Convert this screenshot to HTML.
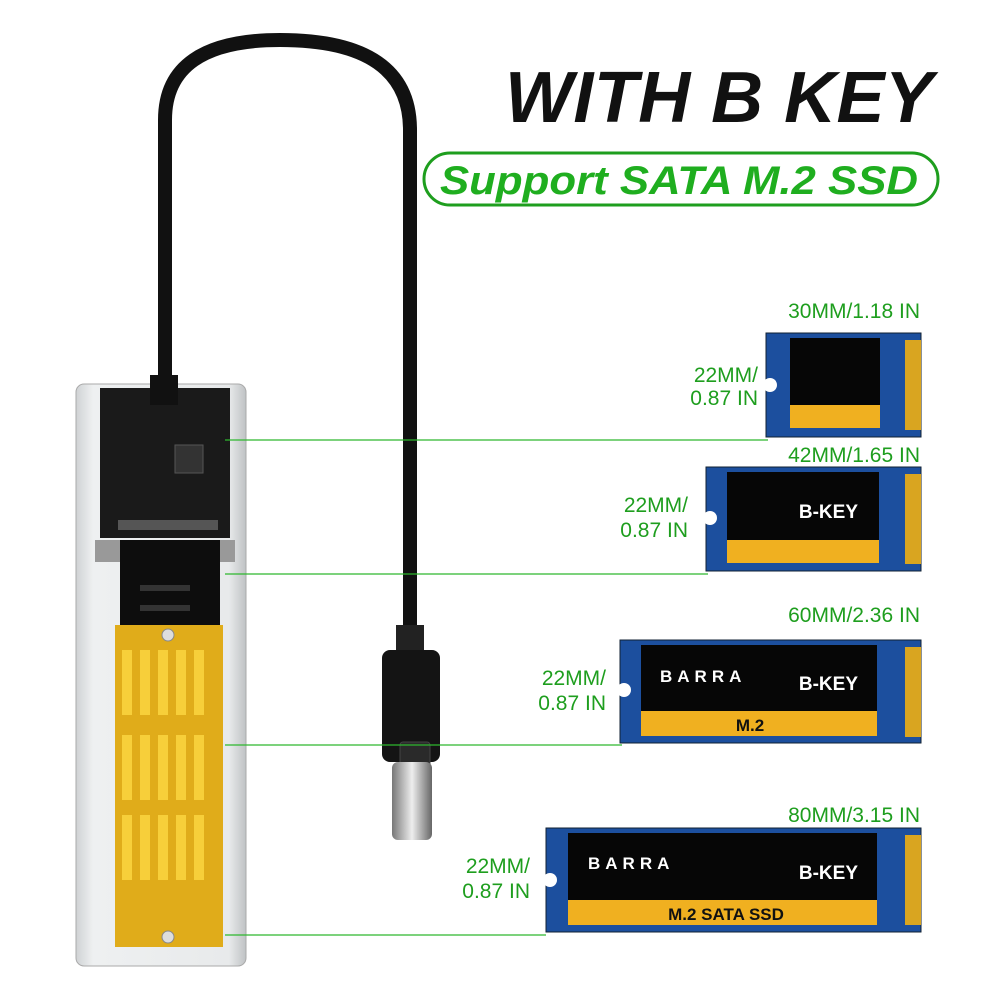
<!DOCTYPE html>
<html><head><meta charset="utf-8"><style>
body{margin:0;background:#fff;width:1000px;height:1000px;overflow:hidden;font-family:"Liberation Sans",sans-serif}
.g{fill:#1e9e1e;font-family:"Liberation Sans",sans-serif}
</style></head><body>
<svg width="1000" height="1000" viewBox="0 0 1000 1000" xmlns="http://www.w3.org/2000/svg">
<defs>
<linearGradient id="encl" x1="0" x2="1"><stop offset="0" stop-color="#cfd2d4"/><stop offset="0.1" stop-color="#eef0f1"/><stop offset="0.9" stop-color="#e8eaeb"/><stop offset="1" stop-color="#bfc2c4"/></linearGradient>
<linearGradient id="met" x1="0" x2="1"><stop offset="0" stop-color="#777"/><stop offset="0.5" stop-color="#eee"/><stop offset="1" stop-color="#666"/></linearGradient>
</defs>
<text x="505" y="122" font-size="72" font-weight="bold" font-style="italic" fill="#111" font-family="Liberation Sans,sans-serif" textLength="428">WITH B KEY</text>
<rect x="424" y="153" width="514" height="52" rx="26" fill="none" stroke="#1e9e1e" stroke-width="3"/>
<text x="440" y="194" font-size="40" font-weight="bold" font-style="italic" fill="#1fae1f" font-family="Liberation Sans,sans-serif" textLength="478" lengthAdjust="spacingAndGlyphs">Support SATA M.2 SSD</text>
<path d="M165 385 L165 120 Q165 40 280 40 Q410 40 410 130 L410 640" fill="none" stroke="#111" stroke-width="14"/>
<rect x="396" y="625" width="28" height="30" fill="#222"/>
<rect x="382" y="650" width="58" height="112" rx="8" fill="#141414"/>
<rect x="400" y="742" width="30" height="50" rx="3" fill="#2a2a2a" stroke="#444"/>
<rect x="392" y="762" width="40" height="78" rx="6" fill="url(#met)"/>
<rect x="76" y="384" width="170" height="582" rx="8" fill="url(#encl)" stroke="#aaa"/>
<rect x="100" y="388" width="130" height="150" fill="#1a1a1a"/>
<rect x="150" y="375" width="28" height="30" fill="#111"/>
<rect x="175" y="445" width="28" height="28" fill="#333" stroke="#555"/>
<rect x="118" y="520" width="100" height="10" fill="#555"/>
<rect x="95" y="540" width="140" height="22" fill="#999"/>
<rect x="120" y="540" width="100" height="85" fill="#0d0d0d"/>
<rect x="140" y="585" width="50" height="6" fill="#333"/>
<rect x="140" y="605" width="50" height="6" fill="#333"/>
<rect x="115" y="625" width="108" height="322" fill="#e0ac1a"/>
<g fill="#f7cf3a">
<rect x="122" y="650" width="10" height="65"/><rect x="140" y="650" width="10" height="65"/><rect x="158" y="650" width="10" height="65"/><rect x="176" y="650" width="10" height="65"/><rect x="194" y="650" width="10" height="65"/>
<rect x="122" y="735" width="10" height="65"/><rect x="140" y="735" width="10" height="65"/><rect x="158" y="735" width="10" height="65"/><rect x="176" y="735" width="10" height="65"/><rect x="194" y="735" width="10" height="65"/>
<rect x="122" y="815" width="10" height="65"/><rect x="140" y="815" width="10" height="65"/><rect x="158" y="815" width="10" height="65"/><rect x="176" y="815" width="10" height="65"/><rect x="194" y="815" width="10" height="65"/>
</g>
<circle cx="168" cy="635" r="6" fill="#ddd" stroke="#888"/>
<circle cx="168" cy="937" r="6" fill="#ddd" stroke="#888"/>
<g stroke="#2eb82e" stroke-width="1.2">
<line x1="225" y1="440" x2="768" y2="440"/>
<line x1="225" y1="574" x2="708" y2="574"/>
<line x1="225" y1="745" x2="622" y2="745"/>
<line x1="225" y1="935" x2="546" y2="935"/>
</g>
<rect x="766" y="333" width="155" height="104" fill="#1c4f9e" stroke="#123"/>
<rect x="905" y="340" width="16" height="90" fill="#d9a520"/>
<rect x="790" y="338" width="90" height="68" fill="#060606"/>
<rect x="790" y="405" width="90" height="23" fill="#f0b020"/>
<circle cx="770" cy="385" r="7" fill="#fff"/>
<text class="g" x="920" y="318" font-size="21" text-anchor="end">30MM/1.18 IN</text>
<text class="g" x="758" y="382" font-size="21" text-anchor="end">22MM/</text>
<text class="g" x="758" y="405" font-size="21" text-anchor="end">0.87 IN</text>
<rect x="706" y="467" width="215" height="104" fill="#1c4f9e" stroke="#123"/>
<rect x="905" y="474" width="16" height="90" fill="#d9a520"/>
<rect x="727" y="472" width="152" height="68" fill="#060606"/>
<rect x="727" y="540" width="152" height="23" fill="#f0b020"/>
<circle cx="710" cy="518" r="7" fill="#fff"/>
<text x="858" y="518" font-size="19" font-weight="bold" fill="#fff" text-anchor="end">B-KEY</text>
<text class="g" x="920" y="462" font-size="21" text-anchor="end">42MM/1.65 IN</text>
<text class="g" x="688" y="512" font-size="21" text-anchor="end">22MM/</text>
<text class="g" x="688" y="537" font-size="21" text-anchor="end">0.87 IN</text>
<rect x="620" y="640" width="301" height="103" fill="#1c4f9e" stroke="#123"/>
<rect x="905" y="647" width="16" height="90" fill="#d9a520"/>
<rect x="641" y="645" width="236" height="67" fill="#060606"/>
<rect x="641" y="711" width="236" height="25" fill="#f0b020"/>
<circle cx="624" cy="690" r="7" fill="#fff"/>
<text x="660" y="682" font-size="17" font-weight="bold" fill="#fff" letter-spacing="5">BARRA</text>
<text x="858" y="690" font-size="19" font-weight="bold" fill="#fff" text-anchor="end">B-KEY</text>
<text x="750" y="731" font-size="17" font-weight="bold" fill="#111" text-anchor="middle">M.2</text>
<text class="g" x="920" y="622" font-size="21" text-anchor="end">60MM/2.36 IN</text>
<text class="g" x="606" y="685" font-size="21" text-anchor="end">22MM/</text>
<text class="g" x="606" y="710" font-size="21" text-anchor="end">0.87 IN</text>
<rect x="546" y="828" width="375" height="104" fill="#1c4f9e" stroke="#123"/>
<rect x="905" y="835" width="16" height="90" fill="#d9a520"/>
<rect x="568" y="833" width="309" height="68" fill="#060606"/>
<rect x="568" y="900" width="309" height="25" fill="#f0b020"/>
<circle cx="550" cy="880" r="7" fill="#fff"/>
<text x="588" y="869" font-size="17" font-weight="bold" fill="#fff" letter-spacing="5">BARRA</text>
<text x="858" y="879" font-size="19" font-weight="bold" fill="#fff" text-anchor="end">B-KEY</text>
<text x="726" y="920" font-size="17" font-weight="bold" fill="#111" text-anchor="middle">M.2 SATA SSD</text>
<text class="g" x="920" y="822" font-size="21" text-anchor="end">80MM/3.15 IN</text>
<text class="g" x="530" y="873" font-size="21" text-anchor="end">22MM/</text>
<text class="g" x="530" y="898" font-size="21" text-anchor="end">0.87 IN</text>
</svg>
</body></html>
